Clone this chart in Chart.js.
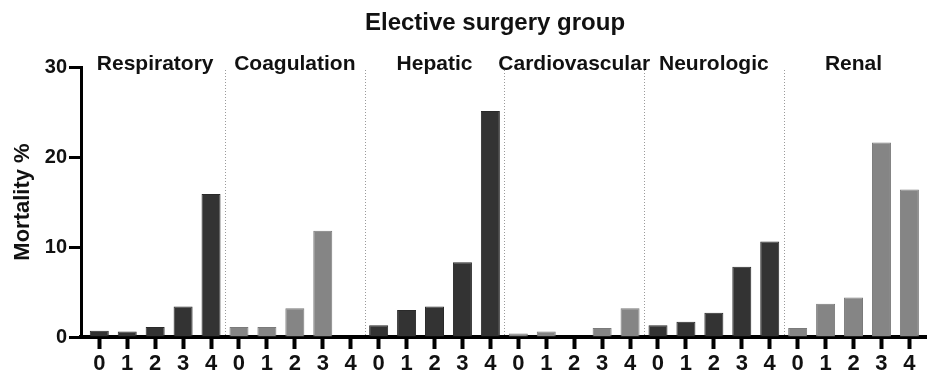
<!DOCTYPE html>
<html>
<head>
<meta charset="utf-8">
<script src="https://cdn.jsdelivr.net/npm/chart.js@4/dist/chart.umd.min.js"></script>
<style>
  html, body { margin: 0; padding: 0; background: #fff; }
  #wrap { width: 927px; height: 377px; }
</style>
</head>
<body>
<div id="wrap"><canvas id="c" width="927" height="377"></canvas></div>
<script>
// Organ systems and SOFA-style score levels shown on the x axis
const groups = ['Respiratory', 'Coagulation', 'Hepatic', 'Cardiovascular', 'Neurologic', 'Renal'];
const scoreLabels = ['0', '1', '2', '3', '4'];

// Mortality (%) per score level, one array per organ system
const respiratory    = [0.7, 0.6, 1.1, 3.4, 15.9];
const coagulation    = [1.1, 1.1, 3.2, 11.8, 0];
const hepatic        = [1.3, 3.0, 3.4, 8.3, 25.1];
const cardiovascular = [0.4, 0.6, 0, 1.0, 3.2];
const neurologic     = [1.3, 1.7, 2.7, 7.8, 10.6];
const renal          = [1.0, 3.7, 4.4, 21.6, 16.4];

const seriesByGroup = [respiratory, coagulation, hepatic, cardiovascular, neurologic, renal];
const yTicks = [0, 10, 20, 30];

const perGroup = scoreLabels.length;
const points = [];
seriesByGroup.forEach((vals, g) => {
  vals.forEach((v, s) => points.push({ x: g * perGroup + s, y: v }));
});
const tickPositions = points.map(p => p.x);

const DARK = '#333333';
const LIGHT = '#858585';
const FONT = '"Liberation Sans", Arial, Helvetica, sans-serif';

// Headings and the dotted dividers between organ systems
const decorations = {
  id: 'decorations',
  afterDraw(chart) {
    const { ctx, chartArea, scales } = chart;
    const xs = scales.x;
    ctx.save();
    ctx.fillStyle = '#111';
    ctx.textAlign = 'center';
    ctx.textBaseline = 'middle';
    ctx.font = 'bold 24px ' + FONT;
    ctx.fillText('Elective surgery group', 495, 23);

    ctx.font = 'bold 21px ' + FONT;
    groups.forEach((name, g) => {
      const cx = xs.getPixelForValue(g * perGroup + (perGroup - 1) / 2);
      ctx.fillText(name, cx, 64);
    });

    ctx.strokeStyle = '#9a9a9a';
    ctx.lineWidth = 1;
    ctx.setLineDash([1, 2]);
    for (let g = 1; g < groups.length; g++) {
      const px = Math.round(xs.getPixelForValue(g * perGroup - 0.5)) + 0.5;
      ctx.beginPath();
      ctx.moveTo(px, 70);
      ctx.lineTo(px, chartArea.bottom - 2);
      ctx.stroke();
    }
    ctx.restore();
  }
};

new Chart(document.getElementById('c'), {
  type: 'bar',
  data: {
    datasets: [{
      data: points,
      backgroundColor: ctx => (Math.floor(ctx.dataIndex / perGroup) % 2 === 0 ? DARK : LIGHT),
      borderColor: ctx => (Math.floor(ctx.dataIndex / perGroup) % 2 === 0 ? '#2a2a2a' : '#7a7a7a'),
      borderWidth: 1,
      categoryPercentage: 1,
      barPercentage: 0.68
    }]
  },
  options: {
    responsive: false,
    animation: false,
    events: [],
    layout: { padding: { top: 67, right: 0, bottom: 0, left: 0 } },
    plugins: {
      legend: { display: false },
      title: { display: false },
      tooltip: { enabled: false }
    },
    scales: {
      x: {
        type: 'linear',
        offset: false,
        min: -0.655,
        max: 29.63,
        afterBuildTicks: scale => { scale.ticks = tickPositions.map(v => ({ value: v })); },
        afterFit: scale => { scale.height = 40; },
        border: { display: true, color: '#000', width: 4 },
        grid: { offset: false, drawOnChartArea: false, drawTicks: true, tickLength: 12, tickWidth: 4, color: '#000' },
        ticks: {
          autoSkip: false,
          maxRotation: 0,
          padding: 2,
          color: '#111',
          font: { family: FONT, size: 22, weight: 'bold' },
          callback: v => scoreLabels[v % perGroup]
        }
      },
      y: {
        min: 0,
        max: 30,
        afterBuildTicks: scale => { scale.ticks = yTicks.map(v => ({ value: v })); },
        afterFit: scale => { scale.width = 81; },
        border: { display: true, color: '#000', width: 3 },
        grid: { drawOnChartArea: false, drawTicks: true, tickLength: 12, tickWidth: 3, color: '#000' },
        ticks: {
          padding: 2,
          color: '#111',
          font: { family: FONT, size: 20, weight: 'bold' }
        },
        title: {
          display: true,
          text: 'Mortality %',
          color: '#111',
          padding: { top: 10, bottom: 0 },
          font: { family: FONT, size: 22, weight: 'bold' }
        }
      }
    }
  },
  plugins: [decorations]
});
</script>
</body>
</html>
